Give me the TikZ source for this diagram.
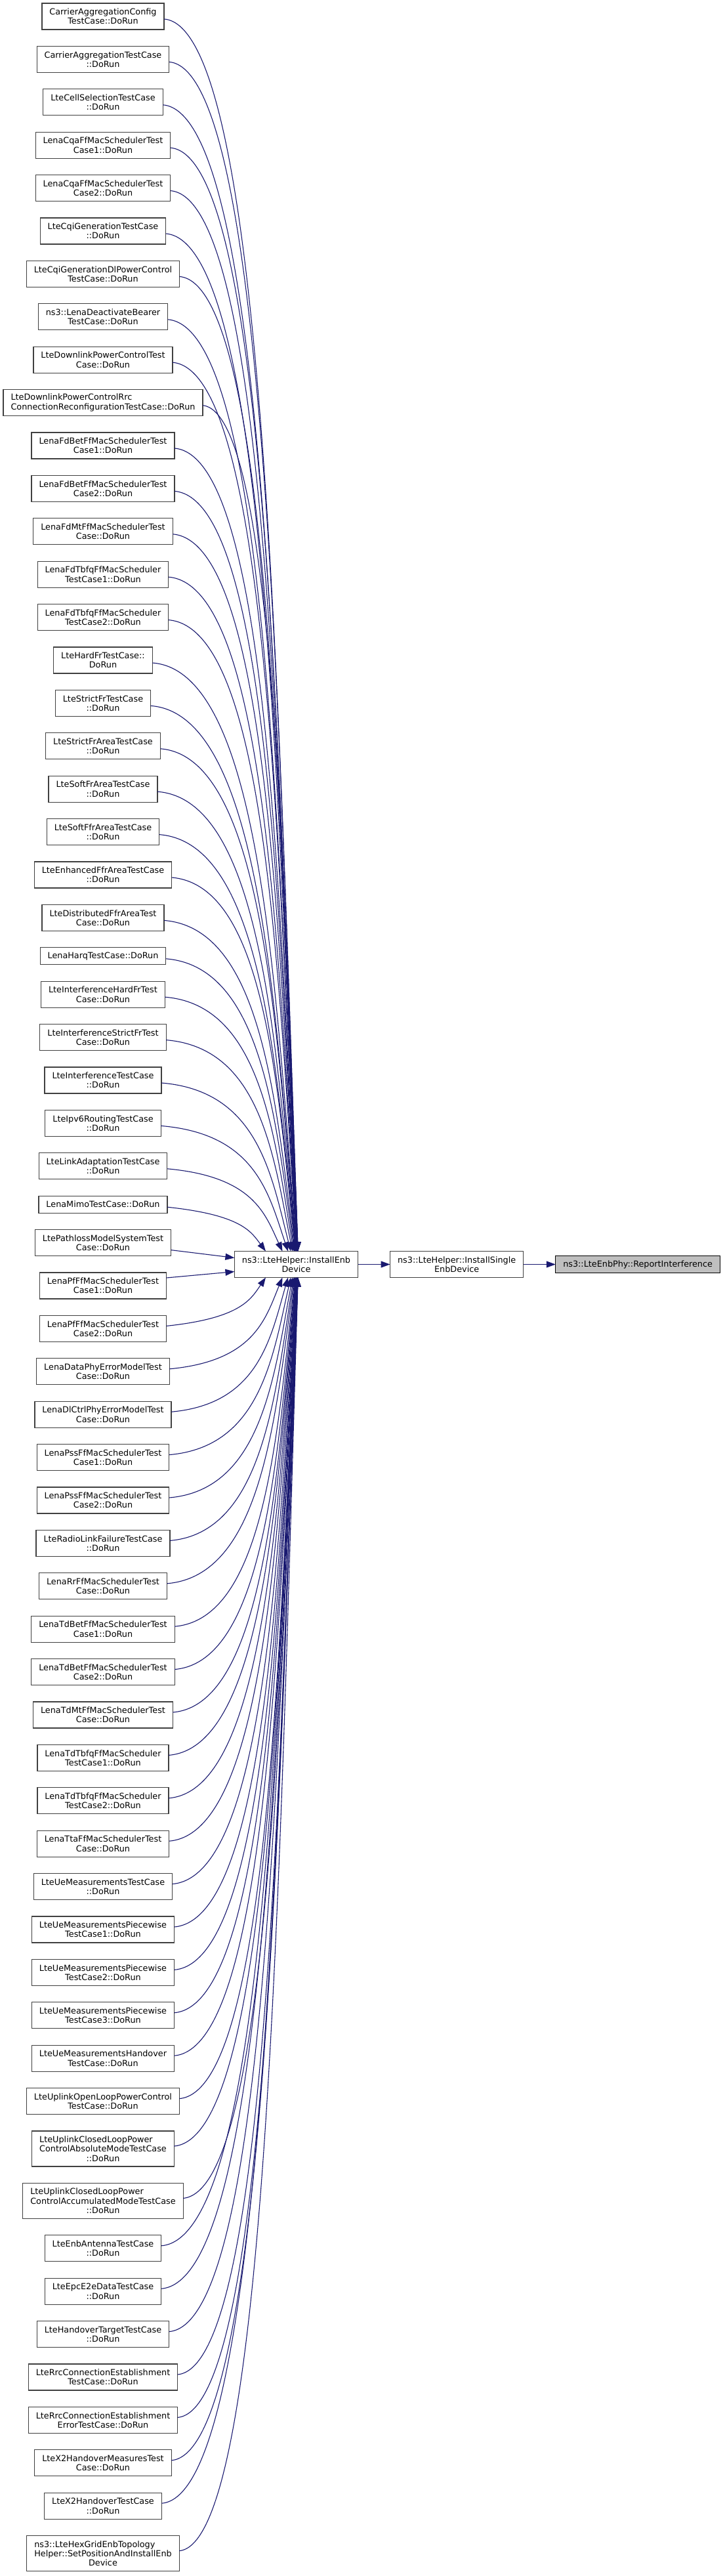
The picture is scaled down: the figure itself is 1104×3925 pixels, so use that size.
\documentclass[tikz,border=0pt]{standalone}
\usepackage{fontspec}
\setmainfont{DejaVu Sans}
\usetikzlibrary{positioning,calc,arrows.meta}
\definecolor{edgeblue}{RGB}{25,25,112}
\definecolor{boxline}{RGB}{64,64,64}
\definecolor{curfill}{RGB}{191,191,191}
\newcommand\fnfont{\fontsize{12.8}{14.3}\selectfont}
\newlength\lpairwd
\newcommand\lpair[2]{\settowidth\lpairwd{#2}\makebox[\lpairwd][l]{#1}\\#2}
\tikzset{
  fn/.style={draw=boxline, line width=1.2pt, fill=white, font=\fnfont, align=center,
    inner xsep=11.5pt, inner ysep=2pt, outer sep=0pt, minimum height=40pt},
  fnone/.style={fn, minimum height=26pt},
  fnthree/.style={fn, minimum height=54pt},
  call/.style={draw=edgeblue, line width=1.1pt, -{Triangle[length=14pt,width=10pt]}}
}
\begin{document}
\begin{tikzpicture}[x=1pt, y=-1pt, node distance=25.4pt]
\useasboundingbox (0,0) rectangle (1104,3925);
% callers, one column
\node[fn] (tc1) at (157,25) {CarrierAggregationConfig\\TestCase::DoRun};
\node[fn, below=of tc1] (tc2) {CarrierAggregationTestCase\\::DoRun};
\node[fn, below=of tc2] (tc3) {LteCellSelectionTestCase\\::DoRun};
\node[fn, below=of tc3] (tc4) {LenaCqaFfMacSchedulerTest\\Case1::DoRun};
\node[fn, below=of tc4] (tc5) {LenaCqaFfMacSchedulerTest\\Case2::DoRun};
\node[fn, below=of tc5] (tc6) {LteCqiGenerationTestCase\\::DoRun};
\node[fn, below=of tc6] (tc7) {LteCqiGenerationDlPowerControl\\TestCase::DoRun};
\node[fn, below=of tc7] (tc8) {ns3::LenaDeactivateBearer\\TestCase::DoRun};
\node[fn, below=of tc8] (tc9) {LteDownlinkPowerControlTest\\Case::DoRun};
\node[fn, below=of tc9] (tc10) {\lpair{LteDownlinkPowerControlRrc}{ConnectionReconfigurationTestCase::DoRun}};
\node[fn, below=of tc10] (tc11) {LenaFdBetFfMacSchedulerTest\\Case1::DoRun};
\node[fn, below=of tc11] (tc12) {LenaFdBetFfMacSchedulerTest\\Case2::DoRun};
\node[fn, below=of tc12] (tc13) {LenaFdMtFfMacSchedulerTest\\Case::DoRun};
\node[fn, below=of tc13] (tc14) {LenaFdTbfqFfMacScheduler\\TestCase1::DoRun};
\node[fn, below=of tc14] (tc15) {LenaFdTbfqFfMacScheduler\\TestCase2::DoRun};
\node[fn, below=of tc15] (tc16) {LteHardFrTestCase::\\DoRun};
\node[fn, below=of tc16] (tc17) {LteStrictFrTestCase\\::DoRun};
\node[fn, below=of tc17] (tc18) {LteStrictFrAreaTestCase\\::DoRun};
\node[fn, below=of tc18] (tc19) {LteSoftFrAreaTestCase\\::DoRun};
\node[fn, below=of tc19] (tc20) {LteSoftFfrAreaTestCase\\::DoRun};
\node[fn, below=of tc20] (tc21) {LteEnhancedFfrAreaTestCase\\::DoRun};
\node[fn, below=of tc21] (tc22) {LteDistributedFfrAreaTest\\Case::DoRun};
\node[fnone, below=of tc22] (tc23) {LenaHarqTestCase::DoRun};
\node[fn, below=of tc23] (tc24) {LteInterferenceHardFrTest\\Case::DoRun};
\node[fn, below=of tc24] (tc25) {LteInterferenceStrictFrTest\\Case::DoRun};
\node[fn, below=of tc25] (tc26) {LteInterferenceTestCase\\::DoRun};
\node[fn, below=of tc26] (tc27) {LteIpv6RoutingTestCase\\::DoRun};
\node[fn, below=of tc27] (tc28) {LteLinkAdaptationTestCase\\::DoRun};
\node[fnone, below=of tc28] (tc29) {LenaMimoTestCase::DoRun};
\node[fn, below=of tc29] (tc30) {LtePathlossModelSystemTest\\Case::DoRun};
\node[fn, below=of tc30] (tc31) {LenaPfFfMacSchedulerTest\\Case1::DoRun};
\node[fn, below=of tc31] (tc32) {LenaPfFfMacSchedulerTest\\Case2::DoRun};
\node[fn, below=of tc32] (tc33) {LenaDataPhyErrorModelTest\\Case::DoRun};
\node[fn, below=of tc33] (tc34) {LenaDlCtrlPhyErrorModelTest\\Case::DoRun};
\node[fn, below=of tc34] (tc35) {LenaPssFfMacSchedulerTest\\Case1::DoRun};
\node[fn, below=of tc35] (tc36) {LenaPssFfMacSchedulerTest\\Case2::DoRun};
\node[fn, below=of tc36] (tc37) {LteRadioLinkFailureTestCase\\::DoRun};
\node[fn, below=of tc37] (tc38) {LenaRrFfMacSchedulerTest\\Case::DoRun};
\node[fn, below=of tc38] (tc39) {LenaTdBetFfMacSchedulerTest\\Case1::DoRun};
\node[fn, below=of tc39] (tc40) {LenaTdBetFfMacSchedulerTest\\Case2::DoRun};
\node[fn, below=of tc40] (tc41) {LenaTdMtFfMacSchedulerTest\\Case::DoRun};
\node[fn, below=of tc41] (tc42) {LenaTdTbfqFfMacScheduler\\TestCase1::DoRun};
\node[fn, below=of tc42] (tc43) {LenaTdTbfqFfMacScheduler\\TestCase2::DoRun};
\node[fn, below=of tc43] (tc44) {LenaTtaFfMacSchedulerTest\\Case::DoRun};
\node[fn, below=of tc44] (tc45) {LteUeMeasurementsTestCase\\::DoRun};
\node[fn, below=of tc45] (tc46) {LteUeMeasurementsPiecewise\\TestCase1::DoRun};
\node[fn, below=of tc46] (tc47) {LteUeMeasurementsPiecewise\\TestCase2::DoRun};
\node[fn, below=of tc47] (tc48) {LteUeMeasurementsPiecewise\\TestCase3::DoRun};
\node[fn, below=of tc48] (tc49) {LteUeMeasurementsHandover\\TestCase::DoRun};
\node[fn, below=of tc49] (tc50) {LteUplinkOpenLoopPowerControl\\TestCase::DoRun};
\node[fnthree, below=of tc50] (tc51) {\lpair{LteUplinkClosedLoopPower}{ControlAbsoluteModeTestCase}\\::DoRun};
\node[fnthree, below=of tc51] (tc52) {\lpair{LteUplinkClosedLoopPower}{ControlAccumulatedModeTestCase}\\::DoRun};
\node[fn, below=of tc52] (tc53) {LteEnbAntennaTestCase\\::DoRun};
\node[fn, below=of tc53] (tc54) {LteEpcE2eDataTestCase\\::DoRun};
\node[fn, below=of tc54] (tc55) {LteHandoverTargetTestCase\\::DoRun};
\node[fn, below=of tc55] (tc56) {LteRrcConnectionEstablishment\\TestCase::DoRun};
\node[fn, below=of tc56] (tc57) {LteRrcConnectionEstablishment\\ErrorTestCase::DoRun};
\node[fn, below=of tc57] (tc58) {LteX2HandoverMeasuresTest\\Case::DoRun};
\node[fn, below=of tc58] (tc59) {LteX2HandoverTestCase\\::DoRun};
\node[fnthree, below=of tc59] (tc60) {\lpair{ns3::LteHexGridEnbTopology}{Helper::SetPositionAndInstallEnb}\\Device};
% helper chain
\node[fn] (enb) at (451.5,1926.5) {ns3::LteHelper::InstallEnb\\Device};
\node[fn, right=49pt of enb] (sgl) {ns3::LteHelper::InstallSingle\\EnbDevice};
\node[fnone, fill=curfill, draw=black, right=49pt of sgl] (phy) {ns3::LteEnbPhy::ReportInterference};
\draw[call] (enb) -- (sgl);
\draw[call] (sgl) -- (phy);
% calls from above
\foreach \i [evaluate=\i as \r using 30-\i] in {1,...,29}
  \draw[call] let \p1=($(tc\i.east)+(0,4)$), \p2=($(enb.north)+({4.5-51/\r},0)$) in
    (\p1) .. controls ($(\p1)+({0.75*(\x2-\x1)},-12pt)$) and ($(\p2)+({-0.15*(\x2-\x1)},{-0.45*(\y2-\y1)})$) .. (\p2);
\draw[call] ($(tc30.east)+(0,11)$) -- ($(enb.west)+(0,-10)$);
\draw[call] ($(tc31.east)+(0,-12)$) -- ($(enb.west)+(0,11)$);
% calls from below
\foreach \i [evaluate=\i as \r using \i-31] in {32,...,60}
  \draw[call] let \p1=($(tc\i.east)+(0,-4)$), \p2=($(enb.south)+({4.5-51/\r},0)$) in
    (\p1) .. controls ($(\p1)+({0.75*(\x2-\x1)},12pt)$) and ($(\p2)+({-0.15*(\x2-\x1)},{-0.45*(\y2-\y1)})$) .. (\p2);
\end{tikzpicture}
\end{document}
